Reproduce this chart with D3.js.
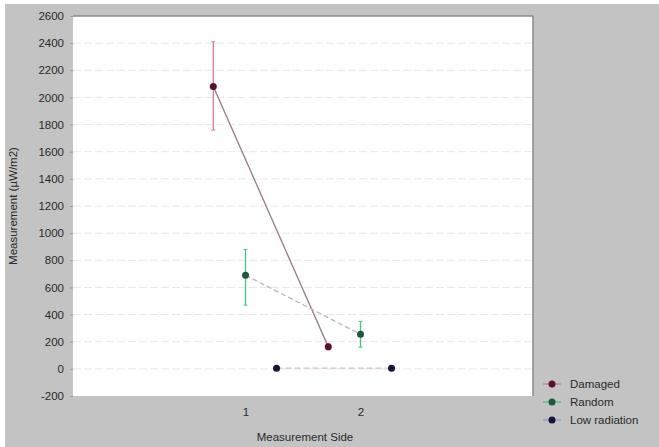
<!DOCTYPE html>
<html>
<head>
<meta charset="utf-8">
<script src="https://cdn.jsdelivr.net/npm/d3@7"></script>
<style>
  body { margin: 0; background: #fff; }
  text { font-family: "Liberation Sans", Arial, sans-serif; }
</style>
</head>
<body>
<div id="chart"></div>
<script>
// data
const sides = [1, 2];
const seriesNames = ["Damaged", "Random", "Low radiation"];
const damagedMean = [2080, 162];
const damagedLow = [1760, 140];
const damagedHigh = [2410, 185];
const randomMean = [690, 255];
const randomLow = [470, 160];
const randomHigh = [880, 350];
const lowRadMean = [5, 5];
const lowRadLow = [0, 0];
const lowRadHigh = [10, 10];
const yTicks = [-200, 0, 200, 400, 600, 800, 1000, 1200, 1400, 1600, 1800, 2000, 2200, 2400, 2600];
const xTicks = [1, 2];

const width = 659, height = 447;
const plot = {left: 73, top: 16, right: 533, bottom: 396};

// each series is nudged sideways so the bars don't overlap
const series = [
  {name: seriesNames[0], mean: damagedMean, lo: damagedLow, hi: damagedHigh, shift: -0.28,
   dot: "#5a1030", bar: "#d27a98", line: "#957c84", dash: null},
  {name: seriesNames[1], mean: randomMean, lo: randomLow, hi: randomHigh, shift: 0,
   dot: "#1d5a3c", bar: "#4cc080", line: "#b8b8b8", dash: "5,3"},
  {name: seriesNames[2], mean: lowRadMean, lo: lowRadLow, hi: lowRadHigh, shift: 0.27,
   dot: "#14143c", bar: "#9090e0", line: "#dcc0cc", dash: "6,3"}
];

const svg = d3.select("#chart").append("svg")
  .attr("width", width)
  .attr("height", height);

// gray frame with the white strip at top/left
svg.append("rect").attr("width", width).attr("height", height).attr("fill", "#fff");
svg.append("rect").attr("x", 5).attr("y", 4).attr("width", width - 5).attr("height", height - 4)
  .attr("fill", "#c3c3c3");

const x = d3.scaleLinear().domain([-0.5, 3.5]).range([plot.left, plot.right]);
const y = d3.scaleLinear().domain([-200, 2600]).range([plot.bottom, plot.top]);

svg.append("rect")
  .attr("x", plot.left).attr("y", plot.top)
  .attr("width", plot.right - plot.left).attr("height", plot.bottom - plot.top)
  .attr("fill", "#fff");

// light horizontal grid
svg.append("g")
  .selectAll("line")
  .data(yTicks.slice(1, -1))
  .enter().append("line")
  .attr("x1", plot.left).attr("x2", plot.right)
  .attr("y1", d => y(d)).attr("y2", d => y(d))
  .attr("stroke", "#e8e8e8")
  .attr("stroke-dasharray", "8,3");

// y axis, plain numbers with ascii minus
const yAxis = svg.append("g")
  .attr("transform", `translate(${plot.left},0)`)
  .call(d3.axisLeft(y).tickValues(yTicks).tickFormat(d => String(d)).tickSize(3).tickPadding(6));
yAxis.select(".domain").remove();
yAxis.selectAll("line").attr("stroke", "#999");
yAxis.selectAll("text").attr("font-size", 11.5).attr("fill", "#2a2a2a");

// x axis
const xAxis = svg.append("g")
  .attr("transform", `translate(0,${plot.bottom})`)
  .call(d3.axisBottom(x).tickValues(xTicks).tickFormat(d => String(d)).tickSize(0).tickPadding(12));
xAxis.select(".domain").remove();
xAxis.selectAll("text").attr("font-size", 11.5).attr("fill", "#2a2a2a");

// frame shading on top and right edge
svg.append("line").attr("x1", plot.left).attr("x2", plot.right)
  .attr("y1", plot.top).attr("y2", plot.top).attr("stroke", "#8a8a8a").attr("stroke-width", 1.5);
svg.append("line").attr("x1", plot.right).attr("x2", plot.right)
  .attr("y1", plot.top).attr("y2", plot.bottom).attr("stroke", "#8a8a8a").attr("stroke-width", 1.5);

// axis titles
svg.append("text")
  .attr("x", 305).attr("y", 441)
  .attr("text-anchor", "middle")
  .attr("font-size", 11.5).attr("fill", "#2a2a2a")
  .text("Measurement Side");
svg.append("text")
  .attr("transform", `translate(17,${(plot.top + plot.bottom) / 2}) rotate(-90)`)
  .attr("text-anchor", "middle")
  .attr("font-size", 11.5).attr("fill", "#2a2a2a")
  .text("Measurement (µW/m2)");

const line = d3.line();

series.forEach(s => {
  const pts = sides.map((side, i) => ({x: x(side + s.shift), m: s.mean[i], lo: s.lo[i], hi: s.hi[i]}));
  const g = svg.append("g");

  // connecting line
  g.append("path")
    .attr("d", line(pts.map(p => [p.x, y(p.m)])))
    .attr("fill", "none")
    .attr("stroke", s.line)
    .attr("stroke-width", 1.3)
    .attr("stroke-dasharray", s.dash);

  // error bars
  g.selectAll(".err")
    .data(pts)
    .enter().append("line")
    .attr("x1", d => d.x).attr("x2", d => d.x)
    .attr("y1", d => y(d.lo)).attr("y2", d => y(d.hi))
    .attr("stroke", s.bar)
    .attr("stroke-width", 1.3);
  g.selectAll(".cap")
    .data(pts.flatMap(p => [[p.x, p.lo], [p.x, p.hi]]))
    .enter().append("line")
    .attr("x1", d => d[0] - 2).attr("x2", d => d[0] + 2)
    .attr("y1", d => y(d[1])).attr("y2", d => y(d[1]))
    .attr("stroke", s.bar)
    .attr("stroke-width", 1);

  // means
  g.selectAll("circle")
    .data(pts)
    .enter().append("circle")
    .attr("cx", d => d.x).attr("cy", d => y(d.m))
    .attr("r", 3.5)
    .attr("fill", s.dot);
});

// legend
const legend = svg.append("g").attr("transform", "translate(552,384)");
series.forEach((s, i) => {
  const row = legend.append("g").attr("transform", `translate(0,${i * 18})`);
  row.append("line").attr("x1", -9).attr("x2", 9).attr("stroke", s.bar).attr("stroke-width", 1.3);
  row.append("circle").attr("r", 3.5).attr("fill", s.dot);
  row.append("text").attr("x", 18).attr("y", 4)
    .attr("font-size", 11.5).attr("fill", "#2a2a2a")
    .text(s.name);
});
</script>
</body>
</html>
